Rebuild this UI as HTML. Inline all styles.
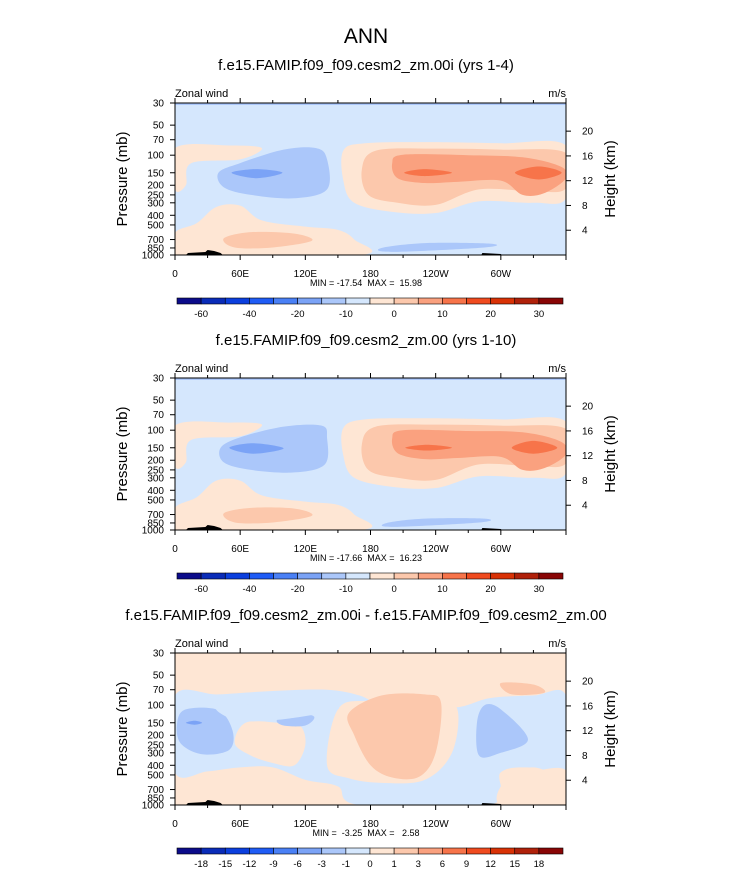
<!DOCTYPE html>
<html><head><meta charset="utf-8"><style>
body{margin:0;background:#fff}
svg{display:block;font-family:"Liberation Sans",sans-serif}
text{white-space:pre}
</style></head><body>
<svg id="chart" width="733" height="871" viewBox="0 0 733 871" xmlns="http://www.w3.org/2000/svg">
<text x="366" y="43" font-size="21" text-anchor="middle">ANN</text>
</svg>
<script>
// ---- data ----
const lonTicks = [0,60,120,180,240,300,360];
const lonLabels = ["0","60E","120E","180","120W","60W",""];
const presTicks = [30,50,70,100,150,200,250,300,400,500,700,850,1000];
const heightTicks = [20,16,12,8,4];
const panelTitles = ["f.e15.FAMIP.f09_f09.cesm2_zm.00i (yrs 1-4)","f.e15.FAMIP.f09_f09.cesm2_zm.00 (yrs 1-10)","f.e15.FAMIP.f09_f09.cesm2_zm.00i - f.e15.FAMIP.f09_f09.cesm2_zm.00"];
const minMaxText = ["MIN = -17.54  MAX =  15.98","MIN = -17.66  MAX =  16.23","MIN =  -3.25  MAX =   2.58"];
const cbLabels12 = ["-60","-40","-20","-10","0","10","20","30"];
const cbLabels3 = ["-18","-15","-12","-9","-6","-3","-1","0","1","3","6","9","12","15","18"];
const colors = ["#0c0c8a","#0a2cb8","#0b3fde","#1f5cf5","#4a80f5","#7ba3f6","#abc7fa","#d5e7fd","#fee6d4","#fcc8ac","#faa17f","#f7744a","#f04b1f","#d93206","#b0210a","#890606"];
// panel 1 contour regions: [level index, polygon of [lon, pressure]]
const p1Levels = [8,9,10,11,11,6,5,8,9,6,8];
const p1Polys = [
 [[155,90],[175,76],[230,74],[300,76],[360,80],[360,270],[330,300],[280,290],[240,380],[200,370],[165,300],[155,180]],
 [[172,140],[185,90],[240,86],[300,88],[360,95],[360,215],[330,230],[280,220],[240,315],[205,300],[178,250]],
 [[200,120],[210,99],[270,100],[320,105],[355,130],[360,170],[340,240],[320,250],[300,180],[260,185],[230,190],[205,170]],
 [[211,150],[230,138],[255,150],[230,162]],
 [[313,150],[335,130],[356,150],[335,175]],
 [[40,150],[60,120],[100,88],[130,85],[140,110],[140,220],[110,270],[70,250],[45,210]],
 [[52,150],[75,138],[99,150],[75,170]],
 [[0,1000],[0,600],[20,480],[38,330],[60,320],[80,450],[120,520],[150,560],[165,700],[170,1000]],
 [[45,680],[70,590],[110,610],[126,720],[90,840],[55,840]],
 [[190,850],[230,760],[290,770],[285,840],[200,930]],
 [[0,85],[50,80],[80,85],[60,110],[15,120],[10,200],[0,220]]
];
const p2Levels = [8,9,10,11,11,6,5,8,9,6,8];
const p2Polys = [
 [[155,95],[175,78],[230,76],[300,78],[360,82],[360,270],[330,300],[280,290],[240,380],[200,370],[165,300],[155,180]],
 [[172,140],[185,92],[240,88],[300,90],[360,97],[360,215],[330,230],[280,220],[240,315],[205,300],[178,250]],
 [[200,120],[210,100],[270,102],[320,105],[355,130],[360,175],[340,240],[320,250],[300,185],[260,190],[230,195],[205,170]],
 [[212,150],[232,140],[255,150],[232,160]],
 [[310,150],[330,128],[352,150],[330,172]],
 [[42,150],[60,118],[100,92],[135,90],[140,120],[138,220],[110,265],[70,250],[45,210]],
 [[50,150],[72,135],[100,152],[72,172]],
 [[0,1000],[0,600],[20,470],[38,320],[60,320],[80,450],[120,520],[150,560],[165,700],[170,1000]],
 [[45,680],[70,600],[110,610],[126,720],[90,840],[55,840]],
 [[195,850],[230,770],[285,770],[280,840],[200,930]],
 [[0,90],[50,84],[80,88],[60,115],[15,125],[10,210],[0,230]]
];
const p3Levels = [7,8,8,8,9,6,5,6,6,7,9];
const p3Polys = [
 [[0,80],[40,78],[90,72],[140,70],[170,80],[190,100],[220,104],[260,105],[290,85],[330,80],[360,80],[360,450],[330,420],[300,470],[290,1000],[170,1000],[150,650],[120,560],[90,420],[60,420],[30,460],[0,470]],
 [[140,400],[150,110],[180,90],[240,92],[260,110],[255,300],[230,560],[190,600],[160,540]],
 [[55,240],[65,150],[95,150],[115,160],[120,250],[110,400],[90,380],[70,320]],
 [[300,1000],[305,550],[330,460],[360,450],[360,1000]],
 [[160,120],[190,80],[230,78],[245,95],[240,300],[225,520],[200,530],[180,400],[165,200]],
 [[2,150],[10,110],[40,112],[53,180],[50,280],[25,310],[5,240]],
 [[10,150],[18,143],[25,150],[18,157]],
 [[278,150],[285,100],[300,110],[325,220],[300,300],[280,320]],
 [[94,140],[110,120],[128,130],[120,160],[100,160]],
 [[40,100],[110,102],[130,95],[150,110],[95,140],[55,140]],
 [[300,60],[330,62],[340,75],[310,78]]
];
const panelLevels = [p1Levels,p2Levels,p3Levels];
const panelPolys = [p1Polys,p2Polys,p3Polys];
const panelBg = ["#d5e7fd","#d5e7fd","#d5e7fd"];
// ---- layout ----
const svg = document.getElementById('chart');
const NS = "http://www.w3.org/2000/svg";
const X0=175, X1=566, PH=152, panelTop=[103,378,653];
function xs(lon){return X0+(lon/360)*(X1-X0);}
function ys(p,top){return top+PH*Math.log(p/30)/Math.log(1000/30);}
function mk(tag,attrs,parent){const e=document.createElementNS(NS,tag);for(const k in attrs)e.setAttribute(k,attrs[k]);(parent||svg).appendChild(e);return e;}
function smooth(pts){
 const n=pts.length;let d=`M${pts[0][0]},${pts[0][1]}`;
 for(let i=0;i<n;i++){const p0=pts[(i-1+n)%n],p1=pts[i],p2=pts[(i+1)%n],p3=pts[(i+2)%n];
  const c1=[p1[0]+(p2[0]-p0[0])/6,p1[1]+(p2[1]-p0[1])/6],c2=[p2[0]-(p3[0]-p1[0])/6,p2[1]-(p3[1]-p1[1])/6];
  d+=`C${c1[0]},${c1[1]} ${c2[0]},${c2[1]} ${p2[0]},${p2[1]}`;}
 return d+'Z';}
panelTop.forEach((top,pi)=>{
 const g=mk('g',{});
 
 
 const clipId='clip'+pi;
 const cp=mk('clipPath',{id:clipId},g);mk('rect',{x:X0,y:top,width:X1-X0,height:PH},cp);
 const t=mk('text',{x:366,y:top-33,'font-size':15,'text-anchor':'middle'},g);t.textContent=panelTitles[pi];
 
 
 const bg=mk('rect',{x:X0,y:top,width:X1-X0,height:PH,fill:pi==2?colors[8]:panelBg[pi]},g);
 
 
 const cg=mk('g',{'clip-path':`url(#${clipId})`},g);
 if(pi<2){const s=mk('rect',{x:X0,y:top,width:X1-X0,height:2,fill:colors[6]},cg);}
 panelPolys[pi].forEach((poly,k)=>{
  const pts=poly.map(q=>[xs(q[0]),ys(q[1],top)]);
  const e=mk('path',{d:smooth(pts),fill:colors[panelLevels[pi][k]]},cg);
  
  
 });
 const tr=mk('path',{d:`M${xs(10)},${top+PH} L${xs(12)},${top+PH-2} L${xs(28)},${top+PH-3} L${xs(30)},${top+PH-5} L${xs(36)},${top+PH-4} L${xs(42)},${top+PH-2} L${xs(44)},${top+PH} Z M${xs(282)},${top+PH} L${xs(283)},${top+PH-2} L${xs(300)},${top+PH-1} L${xs(301)},${top+PH}Z`,fill:'#000'},cg);
 
 
 mk('rect',{x:X0,y:top,width:X1-X0,height:PH,fill:'none',stroke:'#000','stroke-width':1},g);
 const zw=mk('text',{x:X0,y:top-6,'font-size':11},g);zw.textContent='Zonal wind';
 
 
 const un=mk('text',{x:X1,y:top-6,'font-size':11,'text-anchor':'end'},g);un.textContent='m/s';
 
 
 for(let lon=0;lon<=360;lon+=30){const x=xs(lon),L=lon%60==0?5:3;
  mk('line',{x1:x,x2:x,y1:top+PH,y2:top+PH+L,stroke:'#000'},g);
  mk('line',{x1:x,x2:x,y1:top,y2:top-L,stroke:'#000'},g);}
 lonTicks.forEach((lon,i)=>{const e=mk('text',{x:xs(lon),y:top+PH+22,'font-size':10,'text-anchor':'middle'},g);e.textContent=lonLabels[i];
  
  });
 presTicks.forEach(p=>{const y=ys(p,top);mk('line',{x1:X0-5,x2:X0,y1:y,y2:y,stroke:'#000'},g);
  const e=mk('text',{x:X0-11,y:y+3.5,'font-size':10,'text-anchor':'end'},g);e.textContent=p;
  
  });
 heightTicks.forEach(h=>{const p=1000*Math.exp(-h/7);const y=ys(p,top);mk('line',{x1:X1,x2:X1+5,y1:y,y2:y,stroke:'#000'},g);
  const e=mk('text',{x:X1+16,y:y+3.5,'font-size':10},g);e.textContent=h;
  
  });
 const yl=mk('text',{transform:`translate(127,${top+76}) rotate(-90)`,'font-size':15,'text-anchor':'middle'},g);yl.textContent='Pressure (mb)';
 
 
 const hl=mk('text',{transform:`translate(615,${top+76}) rotate(-90)`,'font-size':15,'text-anchor':'middle'},g);hl.textContent='Height (km)';
 
 
 const mm=mk('text',{x:366,y:top+PH+31,'font-size':9,'text-anchor':'middle'},g);mm.textContent=minMaxText[pi];
 
 
 const cy=top+195,cx0=177,cx1=563,bw=(cx1-cx0)/16;
 colors.forEach((c,i)=>{const r=mk('rect',{x:cx0+i*bw,y:cy,width:bw,height:6,fill:c,stroke:'#000','stroke-width':0.6},g);
  
  });
 if(pi<2){cbLabels12.forEach((l,i)=>{const e=mk('text',{x:cx0+(2*i+1)*bw,y:cy+19,'font-size':9.5,'text-anchor':'middle'},g);e.textContent=l;
  
  });}
 else{cbLabels3.forEach((l,i)=>{const e=mk('text',{x:cx0+(i+1)*bw,y:cy+19,'font-size':9.5,'text-anchor':'middle'},g);e.textContent=l;
  
  });}
});
</script>
</body></html>
